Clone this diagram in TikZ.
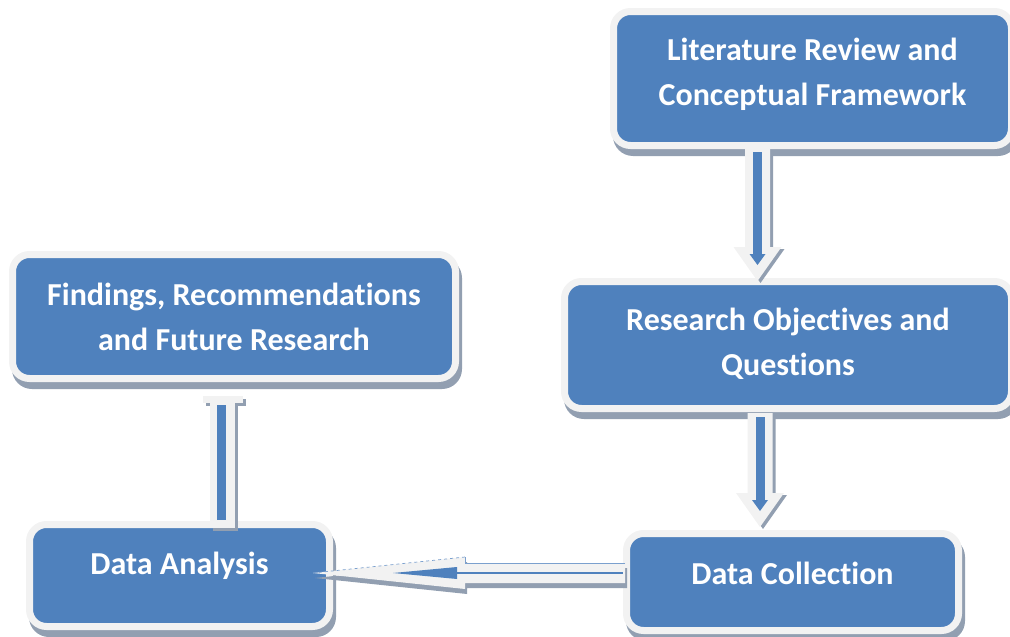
\documentclass[tikz,border=0pt]{standalone}
\usepackage{fontspec}
\setmainfont{Carlito}[Ligatures=NoCommon]
\usetikzlibrary{calc,backgrounds}

\definecolor{boxblue}{HTML}{4F81BD}
\definecolor{rimgray}{HTML}{F2F2F2}
\definecolor{shadegray}{HTML}{929FB1}

\tikzset{
  stage/.style={rectangle, rounded corners=17pt, fill=boxblue, draw=rimgray,
    line width=7pt, inner sep=0pt},
  stagetext/.style={text=white, font=\fontsize{32}{45}\selectfont\bfseries,
    align=center, inner sep=0pt},
  stageshadow/.style={fill=shadegray, rounded corners=20pt},
  arrowbody/.style={fill=rimgray},
  arrowshadow/.style={fill=shadegray},
  arrowcore/.style={fill=boxblue},
}

% hollow block arrow pointing down: #1 top centre, #2 tip
\newcommand{\downshape}[2]{($(#1)+(-12.5,0)$) -- ($(#2)+(-12.5,-34)$) -- ($(#2)+(-24,-34)$)
  -- (#2) -- ($(#2)+(24,-34)$) -- ($(#2)+(12.5,-34)$) -- ($(#1)+(12.5,0)$) -- cycle}
\newcommand{\flowdown}[2]{%
  \fill[arrowshadow, transform canvas={shift={(3pt,-2pt)}}] \downshape{#1}{#2};
  \fill[arrowbody] \downshape{#1}{#2};
  \fill[arrowcore] ($(#1)+(-4.5,4)$) rectangle ($(#2)+(4.5,-26)$);
  \fill[arrowcore] ($(#2)+(-8,-27)$) -- ($(#2)+(8,-27)$) -- ($(#2)+(0,-16)$) -- cycle;}

% hollow block arrow pointing left: #1 right end centre, #2 tip
\newcommand{\leftshape}[2]{($(#1)+(0,-10)$) -- ($(#2)+(152,-10)$) -- ($(#2)+(152,-16)$)
  -- (#2) -- ($(#2)+(152,16)$) -- ($(#2)+(152,10)$) -- ($(#1)+(0,10)$) -- cycle}

\begin{document}
\begin{tikzpicture}[x=1pt,y=-1pt]
\useasboundingbox (0,0) rectangle (1010,637);

% stages
\node[stage, minimum width=398pt, minimum height=134pt] (lit) at (812.5,78.5) {};
\node[stage, minimum width=447pt, minimum height=127pt] (res) at (788,345) {};
\node[stage, minimum width=332pt, minimum height=97pt]  (dc)  at (792.5,582) {};
\node[stage, minimum width=300pt, minimum height=102pt] (da)  at (179.5,575.5) {};
\node[stage, minimum width=443pt, minimum height=124pt] (fin) at (234,316.5) {};

% stage shadows
\begin{scope}[on background layer]
  \foreach \b in {lit,res,dc,da,fin}
    \fill[stageshadow] ($(\b.north west)+(3,7)$) rectangle ($(\b.south east)+(3,7)$);
\end{scope}

% stage labels
\node[stagetext] (litT) at ($(lit.center)+(0,-4)$) {Literature Review and\\Conceptual Framework};
\node[stagetext] (resT) at ($(res.center)+(0,-1)$) {Research Objectives and\\Questions};
\node[stagetext] (dcT)  at ($(dc.center)+(0,-9)$)  {Data Collection};
\node[stagetext] (daT)  at ($(da.center)+(0,-10)$) {Data Analysis};
\node[stagetext] (finT) at ($(fin.center)+(0,0)$)  {Findings, Recommendations\\and Future Research};

% guide columns and rows for the connectors
\coordinate (a1x) at (757.5,0);
\coordinate (a2x) at (760,0);
\coordinate (a3y) at (0,573);
\coordinate (a4x) at (222.5,0);

% literature -> objectives
\coordinate (a1s) at ($(lit.south -| a1x)+(0,-1)$);
\coordinate (a1t) at ($(res.north -| a1x)+(0,3)$);
\flowdown{a1s}{a1t}

% objectives -> data collection
\coordinate (a2s) at ($(res.south -| a2x)+(0,1)$);
\coordinate (a2t) at ($(dc.north -| a2x)+(0,-3)$);
\flowdown{a2s}{a2t}

% data collection -> data analysis
\coordinate (a3s) at ($(dc.west |- a3y)+(2,0)$);
\coordinate (a3t) at ($(da.east |- a3y)+(-20,0)$);
\fill[arrowshadow, transform canvas={shift={(2pt,-5pt)}}] \leftshape{a3s}{a3t};
\fill[arrowbody] \leftshape{a3s}{a3t};
\draw[boxblue!75, line width=0.7pt] ($(a3s)+(0,-10)$) -- ($(a3t)+(152,-10)$) -- ($(a3t)+(152,-16)$);
\draw[boxblue!75, line width=0.7pt, dashed] ($(a3t)+(152,-16)$) -- (a3t);
\fill[arrowcore] ($(a3s)+(-2,-1.2)$) rectangle ($(a3t)+(144,1.2)$);
\fill[arrowcore] ($(a3t)+(144,-6)$) -- ($(a3t)+(144,6)$) -- ($(a3t)+(80,0)$) -- cycle;

% data analysis <-> findings
\coordinate (a4s) at ($(fin.south -| a4x)+(0,14)$);
\coordinate (a4e) at ($(da.north -| a4x)+(0,7)$);
\begin{scope}[transform canvas={shift={(3pt,-3pt)}}]
  \fill[arrowshadow] ($(a4s)+(-20,0)$) rectangle ($(a4s)+(20,7)$);
  \fill[arrowshadow] ($(a4s)+(-12.5,0)$) rectangle ($(a4e)+(12.5,0)$);
\end{scope}
\fill[arrowbody] ($(a4s)+(-20,0)$) rectangle ($(a4s)+(20,7)$);
\fill[arrowbody] ($(a4s)+(-12.5,0)$) rectangle ($(a4e)+(12.5,0)$);
\fill[arrowcore] ($(a4s)+(-5.5,9)$) rectangle ($(a4e)+(3.5,-8)$);
\end{tikzpicture}
\end{document}
